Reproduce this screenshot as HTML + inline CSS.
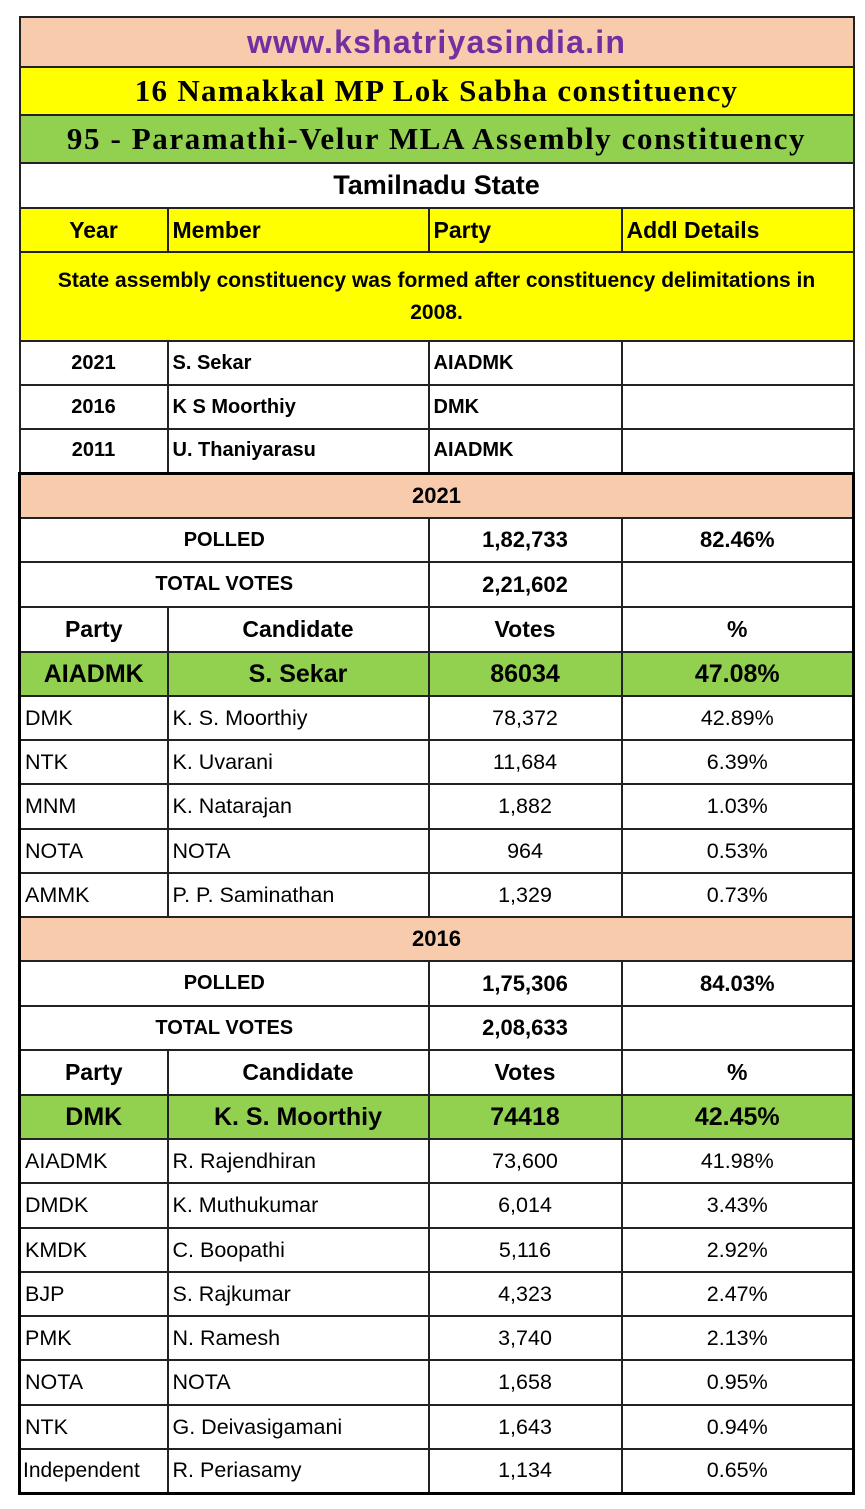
<!DOCTYPE html>
<html><head><meta charset="utf-8"><style>
body{margin:0;background:#fff;width:865px;height:1509px;position:relative;overflow:hidden}
table{position:absolute;left:18px;top:16px;width:834px;border-collapse:collapse;table-layout:fixed;font-family:"Liberation Sans",sans-serif;font-size:20px;color:#000}
td{border:2px solid #222;padding:0 4px;white-space:nowrap;overflow:hidden;box-sizing:border-box}
.c{text-align:center}.b{font-weight:bold}
.pe{background:#f8cbad}.ye{background:#ffff00}.gr{background:#92d050}
.ser{font-family:"Liberation Serif",serif;font-weight:bold;font-size:31px;text-align:center;letter-spacing:1.3px}
.h{font-weight:bold;font-size:23px}
.r td{font-size:21.5px}
.g td{font-size:25px}
.thick td:first-child{border-left:3px solid #000}
.thick td:last-child{border-right:3px solid #000}
</style></head><body>
<table>
<colgroup><col style="width:148px"><col style="width:261px"><col style="width:193px"><col style="width:232px"></colgroup>
<tr style="height:50px" class="pe"><td colspan="4" class="c b" style="color:#7030a0;font-size:32px;letter-spacing:1.2px">www.kshatriyasindia.in</td></tr>
<tr style="height:48px" class="ye"><td colspan="4" class="ser">16 Namakkal MP Lok Sabha constituency</td></tr>
<tr style="height:48px" class="gr"><td colspan="4" class="ser" style="letter-spacing:1.6px">95 - Paramathi-Velur MLA Assembly constituency</td></tr>
<tr style="height:45px"><td colspan="4" class="c b" style="font-size:27px">Tamilnadu State</td></tr>
<tr style="height:44px" class="ye h"><td class="c">Year</td><td>Member</td><td>Party</td><td>Addl Details</td></tr>
<tr style="height:89px" class="ye"><td colspan="4" class="c b" style="font-size:21px;line-height:32px">State assembly constituency was formed after constituency delimitations in<br>2008.</td></tr>
<tr style="height:44px" class="b"><td class="c">2021</td><td>S. Sekar</td><td>AIADMK</td><td></td></tr>
<tr style="height:44px" class="b"><td class="c">2016</td><td>K S Moorthiy</td><td>DMK</td><td></td></tr>
<tr style="height:44px" class="b"><td class="c">2011</td><td>U. Thaniyarasu</td><td>AIADMK</td><td></td></tr>
<tbody class="thick">
<tr style="height:45px" class="pe b"><td colspan="4" class="c" style="border-top:3px solid #000;font-size:22px">2021</td></tr>
<tr style="height:44px" class="b"><td colspan="2" class="c">POLLED</td><td class="c" style="font-size:22px">1,82,733</td><td class="c" style="font-size:22px">82.46%</td></tr>
<tr style="height:45px" class="b"><td colspan="2" class="c">TOTAL VOTES</td><td class="c" style="font-size:22px">2,21,602</td><td></td></tr>
<tr style="height:45px" class="h"><td class="c">Party</td><td class="c">Candidate</td><td class="c">Votes</td><td class="c">%</td></tr>
<tr style="height:44px" class="gr b g"><td class="c">AIADMK</td><td class="c">S. Sekar</td><td class="c">86034</td><td class="c">47.08%</td></tr>
<tr style="height:44px" class="r"><td>DMK</td><td>K. S. Moorthiy</td><td class="c">78,372</td><td class="c">42.89%</td></tr>
<tr style="height:44px" class="r"><td>NTK</td><td>K. Uvarani</td><td class="c">11,684</td><td class="c">6.39%</td></tr>
<tr style="height:45px" class="r"><td>MNM</td><td>K. Natarajan</td><td class="c">1,882</td><td class="c">1.03%</td></tr>
<tr style="height:44px" class="r"><td>NOTA</td><td>NOTA</td><td class="c">964</td><td class="c">0.53%</td></tr>
<tr style="height:44px" class="r"><td>AMMK</td><td>P. P. Saminathan</td><td class="c">1,329</td><td class="c">0.73%</td></tr>
<tr style="height:44px" class="pe b"><td colspan="4" class="c" style="font-size:22px">2016</td></tr>
<tr style="height:45px" class="b"><td colspan="2" class="c">POLLED</td><td class="c" style="font-size:22px">1,75,306</td><td class="c" style="font-size:22px">84.03%</td></tr>
<tr style="height:44px" class="b"><td colspan="2" class="c">TOTAL VOTES</td><td class="c" style="font-size:22px">2,08,633</td><td></td></tr>
<tr style="height:45px" class="h"><td class="c">Party</td><td class="c">Candidate</td><td class="c">Votes</td><td class="c">%</td></tr>
<tr style="height:44px" class="gr b g"><td class="c">DMK</td><td class="c">K. S. Moorthiy</td><td class="c">74418</td><td class="c">42.45%</td></tr>
<tr style="height:44px" class="r"><td>AIADMK</td><td>R. Rajendhiran</td><td class="c">73,600</td><td class="c">41.98%</td></tr>
<tr style="height:45px" class="r"><td>DMDK</td><td>K. Muthukumar</td><td class="c">6,014</td><td class="c">3.43%</td></tr>
<tr style="height:44px" class="r"><td>KMDK</td><td>C. Boopathi</td><td class="c">5,116</td><td class="c">2.92%</td></tr>
<tr style="height:44px" class="r"><td>BJP</td><td>S. Rajkumar</td><td class="c">4,323</td><td class="c">2.47%</td></tr>
<tr style="height:44px" class="r"><td>PMK</td><td>N. Ramesh</td><td class="c">3,740</td><td class="c">2.13%</td></tr>
<tr style="height:45px" class="r"><td>NOTA</td><td>NOTA</td><td class="c">1,658</td><td class="c">0.95%</td></tr>
<tr style="height:44px" class="r"><td>NTK</td><td>G. Deivasigamani</td><td class="c">1,643</td><td class="c">0.94%</td></tr>
<tr style="height:44px" class="r"><td style="border-bottom:3px solid #000;padding:0 2px;font-size:21px">Independent</td><td style="border-bottom:3px solid #000">R. Periasamy</td><td class="c" style="border-bottom:3px solid #000">1,134</td><td class="c" style="border-bottom:3px solid #000">0.65%</td></tr>
</tbody>
</table>
</body></html>
